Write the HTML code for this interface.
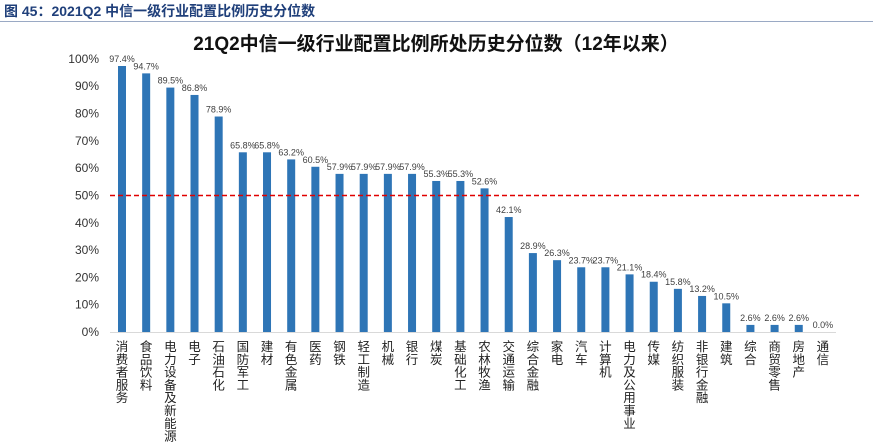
<!DOCTYPE html>
<html><head><meta charset="utf-8"><style>
html,body{margin:0;padding:0;background:#fff;}
body{width:873px;height:443px;overflow:hidden;position:relative;font-family:"Liberation Sans","Noto Sans CJK SC",sans-serif;}
#hdr{position:absolute;left:4px;top:1px;font-size:14px;font-weight:bold;color:#1f3f7a;white-space:nowrap;}
#hline{position:absolute;left:0;top:21px;width:873px;height:1px;background:#9aa9c4;}
</style></head><body>
<div id="hdr">图 45：2021Q2 中信一级行业配置比例历史分位数</div>
<div id="hline"></div>
<svg id="chart" width="873" height="443" style="position:absolute;left:0;top:0"></svg>
<script>
const categories=["消费者服务","食品饮料","电力设备及新能源","电子","石油石化","国防军工","建材","有色金属","医药","钢铁","轻工制造","机械","银行","煤炭","基础化工","农林牧渔","交通运输","综合金融","家电","汽车","计算机","电力及公用事业","传媒","纺织服装","非银行金融","建筑","综合","商贸零售","房地产","通信"];
const values=[97.4,94.7,89.5,86.8,78.9,65.8,65.8,63.2,60.5,57.9,57.9,57.9,57.9,55.3,55.3,52.6,42.1,28.9,26.3,23.7,23.7,21.1,18.4,15.8,13.2,10.5,2.6,2.6,2.6,0.0];
const yTicks=[0,10,20,30,40,50,60,70,80,90,100];
const threshold=50;
const NS="http://www.w3.org/2000/svg";
const svg=document.getElementById('chart');
const y0=332,pxPer=2.731,x0=122,step=24.17;
const yS=v=>y0-v*pxPer;
const xS=i=>x0+i*step;
function mk(t,a){const e=document.createElementNS(NS,t);for(const k in a)e.setAttribute(k,a[k]);svg.appendChild(e);return e;}
const title=mk('text',{x:436,y:50,'text-anchor':'middle','font-size':19,'font-weight':'bold',fill:'#111'});
title.textContent='21Q2中信一级行业配置比例所处历史分位数（12年以来）';


yTicks.forEach(t=>{const e=mk('text',{x:99,y:yS(t)+4,'text-anchor':'end','font-size':12,fill:'#333'});e.textContent=t+'%';

});
const ax=mk('line',{x1:110,x2:836,y1:y0+0.5,y2:y0+0.5,stroke:'#d9d9d9','stroke-width':1});


values.forEach((v,i)=>{
const cx=xS(i);
const r=mk('rect',{x:cx-4,y:yS(v),width:8,height:v*pxPer,fill:'#2e75b6'});


const l=mk('text',{x:cx,y:yS(v)-4,'text-anchor':'middle','font-size':9,fill:'#404040'});l.textContent=v.toFixed(1)+'%';


const c=mk('text',{x:cx,y:351,'text-anchor':'middle','font-size':12.5,fill:'#222'});


[...categories[i]].forEach((ch,j)=>{const s=document.createElementNS(NS,'tspan');s.setAttribute('x',cx);s.setAttribute('dy',j?12.8:0);s.textContent=ch;c.appendChild(s);});
});
const ref=mk('line',{x1:110,x2:862,y1:yS(threshold),y2:yS(threshold),stroke:'#e00000','stroke-width':1.5,'stroke-dasharray':'5,3'});


</script>
</body></html>
